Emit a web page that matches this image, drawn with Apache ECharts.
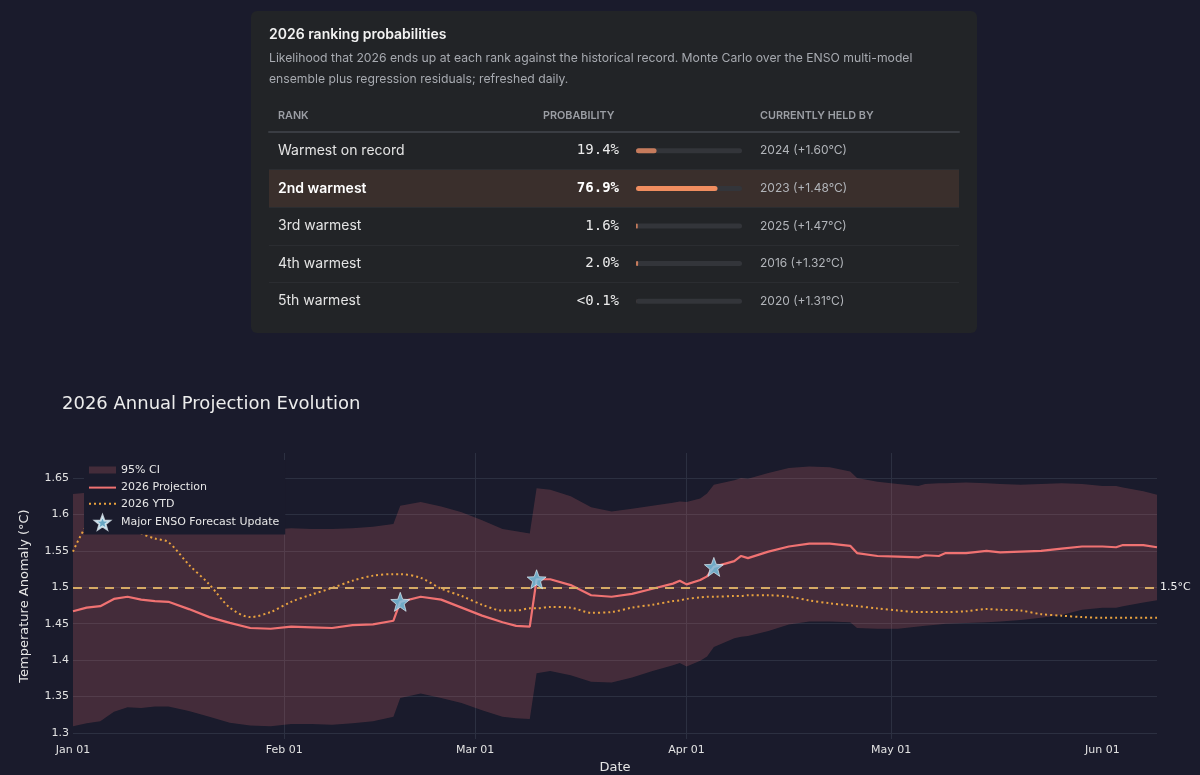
<!DOCTYPE html>
<html>
<head>
<meta charset="utf-8">
<title>2026 Annual Projection Evolution</title>
<script src="https://cdn.jsdelivr.net/npm/echarts@6.0.0/dist/echarts.min.js"></script>
<style>
  html, body { margin: 0; padding: 0; background: #1a1b2c; }
  #container { width: 1200px; height: 775px; }
</style>
</head>
<body>
<div id="container"></div>
<script>
// ranking table
var ranks = ["Warmest on record", "2nd warmest", "3rd warmest", "4th warmest", "5th warmest"];
var probValues = [19.4, 76.9, 1.6, 2.0, 0.05];
var probLabels = ["19.4%", "76.9%", "1.6%", "2.0%", "<0.1%"];
var heldBy = ["2024 (+1.60°C)", "2023 (+1.48°C)", "2025 (+1.47°C)", "2016 (+1.32°C)", "2020 (+1.31°C)"];
var highlightRow = 1;

// projection chart
var dates = [
  "2026-01-01", "2026-01-03", "2026-01-05", "2026-01-07", "2026-01-09", "2026-01-11", "2026-01-13", "2026-01-15",
  "2026-01-18", "2026-01-21", "2026-01-24", "2026-01-27", "2026-01-30", "2026-02-02", "2026-02-05", "2026-02-08",
  "2026-02-11", "2026-02-14", "2026-02-17", "2026-02-18", "2026-02-21", "2026-02-24", "2026-02-27", "2026-03-02",
  "2026-03-05", "2026-03-07", "2026-03-09", "2026-03-10", "2026-03-12", "2026-03-15", "2026-03-18", "2026-03-21",
  "2026-03-24", "2026-03-27", "2026-03-30", "2026-03-31", "2026-04-01", "2026-04-03", "2026-04-04", "2026-04-05",
  "2026-04-08", "2026-04-09", "2026-04-10", "2026-04-13", "2026-04-16", "2026-04-19", "2026-04-22", "2026-04-25",
  "2026-04-26", "2026-04-29", "2026-05-02", "2026-05-05", "2026-05-06", "2026-05-08", "2026-05-09", "2026-05-12",
  "2026-05-15", "2026-05-17", "2026-05-20", "2026-05-23", "2026-05-26", "2026-05-29", "2026-06-01", "2026-06-03",
  "2026-06-04", "2026-06-07", "2026-06-09"
];
var projection = [
  1.467, 1.472, 1.474, 1.484, 1.487, 1.483, 1.481, 1.480,
  1.470, 1.459, 1.451, 1.444, 1.443, 1.446, 1.445, 1.444,
  1.448, 1.449, 1.454, 1.480, 1.487, 1.483, 1.472, 1.461,
  1.452, 1.447, 1.446, 1.511, 1.511, 1.503, 1.489, 1.487,
  1.491, 1.498, 1.505, 1.509, 1.504, 1.510, 1.515, 1.528,
  1.536, 1.543, 1.540, 1.549, 1.556, 1.560, 1.560, 1.557,
  1.547, 1.543, 1.542, 1.541, 1.544, 1.543, 1.547, 1.547,
  1.550, 1.548, 1.549, 1.550, 1.553, 1.556, 1.556, 1.555,
  1.558, 1.558, 1.555
];
var ciUpper = [
  1.628, 1.630, 1.632, 1.638, 1.640, 1.632, 1.628, 1.624,
  1.612, 1.598, 1.588, 1.582, 1.579, 1.581, 1.580, 1.580,
  1.581, 1.583, 1.587, 1.612, 1.617, 1.611, 1.603, 1.592,
  1.580, 1.577, 1.574, 1.636, 1.634, 1.625, 1.610, 1.604,
  1.608, 1.612, 1.616, 1.618, 1.617, 1.622, 1.629, 1.641,
  1.647, 1.650, 1.649, 1.657, 1.664, 1.666, 1.665, 1.659,
  1.650, 1.645, 1.642, 1.639, 1.642, 1.643, 1.643, 1.644,
  1.643, 1.642, 1.641, 1.642, 1.643, 1.642, 1.639, 1.639,
  1.637, 1.632, 1.627
];
var ciLower = [
  1.309, 1.313, 1.316, 1.329, 1.335, 1.334, 1.336, 1.336,
  1.330, 1.322, 1.314, 1.310, 1.309, 1.312, 1.312, 1.311,
  1.313, 1.316, 1.322, 1.348, 1.354, 1.348, 1.341, 1.331,
  1.322, 1.320, 1.319, 1.382, 1.385, 1.379, 1.370, 1.369,
  1.376, 1.385, 1.393, 1.396, 1.391, 1.399, 1.405, 1.418,
  1.430, 1.432, 1.433, 1.440, 1.449, 1.453, 1.453, 1.452,
  1.444, 1.443, 1.443, 1.446, 1.447, 1.449, 1.450, 1.451,
  1.452, 1.453, 1.455, 1.458, 1.462, 1.469, 1.472, 1.472,
  1.474, 1.479, 1.482
];
var ytd = [
  1.549, 1.584, 1.594, 1.596, 1.588, 1.574, 1.567, 1.562,
  1.531, 1.504, 1.472, 1.459, 1.466, 1.480, 1.490, 1.499,
  1.509, 1.516, 1.518, 1.518, 1.513, 1.498, 1.488, 1.476,
  1.468, 1.468, 1.471, 1.471, 1.473, 1.472, 1.465, 1.466,
  1.472, 1.476, 1.481, 1.482, 1.484, 1.486, 1.487, 1.487,
  1.488, 1.488, 1.489, 1.489, 1.487, 1.482, 1.478, 1.475,
  1.474, 1.471, 1.468, 1.466, 1.466, 1.466, 1.466, 1.467,
  1.470, 1.469, 1.468, 1.463, 1.461, 1.459, 1.458, 1.458,
  1.458, 1.458, 1.458
];
var updateDates = ["2026-02-18", "2026-03-10", "2026-04-05"];
var updateValues = [1.480, 1.511, 1.528];
var threshold = 1.5;

var monthTicks = ["2026-01-01", "2026-02-01", "2026-03-01", "2026-04-01", "2026-05-01", "2026-06-01"];
var monthLabels = ["Jan 01", "Feb 01", "Mar 01", "Apr 01", "May 01", "Jun 01"];

function ts(s) {
  var p = s.split("-");
  return new Date(+p[0], +p[1] - 1, +p[2]).getTime();
}
var monthTickTs = monthTicks.map(ts);

var starPath = "path://M50 0 L62.34 33.01 L97.55 34.55 L69.97 56.49 L79.39 90.45 L50 71 L20.61 90.45 L30.03 56.49 L2.45 34.55 L37.66 33.01 Z";
// wide short swatch, padded to the legend item box
var ciIcon = "path://M0,0h0.05v0.05h-0.05zM0,3.5h27v7h-27zM26.95,13.95h0.05v0.05h-0.05z";
var bandColor = "rgba(239,115,115,0.2)";
var starColor = "#7ccbea";

var dom = document.getElementById("container");
var myChart = echarts.init(dom);
var option;

var plotFont = "DejaVu Sans";
var uiFont = "Inter";

option = {
  backgroundColor: "#1a1b2c",
  animation: false,
  textStyle: { fontFamily: plotFont },
  title: [
    {
      text: "2026 ranking probabilities",
      subtext: "Likelihood that 2026 ends up at each rank against the historical record. Monte Carlo over the ENSO multi-model\nensemble plus regression residuals; refreshed daily.",
      left: 269,
      top: 26,
      padding: 0,
      itemGap: 5,
      textStyle: { color: "#f2f2f2", fontSize: 14, fontWeight: 600, fontFamily: uiFont, lineHeight: 17 },
      subtextStyle: { color: "#a7aab0", fontSize: 12.2, fontFamily: uiFont, lineHeight: 21 }
    },
    {
      text: "2026 Annual Projection Evolution",
      left: 62,
      top: 394,
      padding: 0,
      textStyle: { color: "#ececec", fontSize: 18, fontWeight: "normal", fontFamily: plotFont, lineHeight: 21 }
    }
  ],
  graphic: [
    {
      type: "rect",
      z: -10,
      shape: { x: 251, y: 11, width: 726, height: 322, r: 6 },
      style: { fill: "#222427" }
    },
    {
      type: "text", x: 278, y: 116,
      style: { text: "RANK", fill: "#9b9ea4", font: "600 10.8px Inter", verticalAlign: "middle" }
    },
    {
      type: "text", x: 543, y: 116,
      style: { text: "PROBABILITY", fill: "#9b9ea4", font: "600 10.8px Inter", verticalAlign: "middle" }
    },
    {
      type: "text", x: 760, y: 116,
      style: { text: "CURRENTLY HELD BY", fill: "#9b9ea4", font: "600 10.8px Inter", verticalAlign: "middle" }
    }
  ],
  legend: {
    data: [
      { name: "95% CI", icon: ciIcon },
      { name: "2026 Projection", itemStyle: { opacity: 0 } },
      { name: "2026 YTD", itemStyle: { opacity: 0 } },
      { name: "Major ENSO Forecast Update", icon: starPath }
    ],
    orient: "vertical",
    left: 84,
    top: 460,
    padding: [3, 6, 4, 4],
    itemWidth: 27,
    itemHeight: 14,
    itemGap: 5,
    backgroundColor: "#1a1b2c",
    selectedMode: false,
    textStyle: { color: "#e6e6e6", fontSize: 11, fontFamily: plotFont }
  },
  grid: [
    { left: 269, top: 132, width: 690, height: 188 },
    { left: 636, top: 132, width: 106, height: 188 },
    { left: 73, right: 43, top: 453, bottom: 36 }
  ],
  xAxis: [
    {
      gridIndex: 0, type: "value", position: "top", min: 0, max: 1,
      axisLine: { show: true, lineStyle: { color: "#3a3d43", width: 2 } },
      axisTick: { show: false }, axisLabel: { show: false }, splitLine: { show: false }
    },
    {
      gridIndex: 1, type: "value", min: 0, max: 100, show: false
    },
    {
      gridIndex: 2, type: "value",
      min: ts(dates[0]), max: ts(dates[dates.length - 1]),
      axisLine: { show: false },
      axisTick: { show: false, customValues: monthTickTs },
      axisLabel: {
        customValues: monthTickTs,
        color: "#e2e2e2", fontSize: 11, margin: 6, fontFamily: plotFont,
        formatter: function (v) {
          var i = monthTickTs.indexOf(v);
          return i < 0 ? "" : monthLabels[i];
        }
      },
      splitLine: { show: true, showMinLine: false, showMaxLine: false, lineStyle: { color: "#2c3041", width: 1 } },
      name: "Date", nameLocation: "middle", nameGap: 22,
      nameTextStyle: { color: "#e6e6e6", fontSize: 13, fontFamily: plotFont }
    }
  ],
  yAxis: [
    {
      gridIndex: 0, type: "category", data: ranks, inverse: true,
      axisLine: { show: false }, axisTick: { show: false },
      axisLabel: {
        inside: true, margin: 9,
        formatter: function (v, i) { return i === highlightRow ? "{hl|" + v + "}" : "{n|" + v + "}"; },
        rich: {
          n: { color: "#e4e4e4", fontSize: 14, fontFamily: uiFont },
          hl: { color: "#ffffff", fontSize: 14, fontWeight: 600, fontFamily: uiFont }
        }
      },
      splitLine: { show: true, showMinLine: false, showMaxLine: false, lineStyle: { color: "#2b2d31", width: 1 } },
      splitArea: {
        show: true,
        areaStyle: { color: ["rgba(0,0,0,0)", "#3a2f2c", "rgba(0,0,0,0)", "rgba(0,0,0,0)", "rgba(0,0,0,0)"] }
      }
    },
    {
      gridIndex: 1, type: "category", data: probLabels, inverse: true, position: "left",
      axisLine: { show: false }, axisTick: { show: false },
      axisLabel: {
        margin: 17,
        formatter: function (v, i) { return i === highlightRow ? "{hl|" + v + "}" : "{n|" + v + "}"; },
        rich: {
          n: { color: "#ececec", fontSize: 14, fontFamily: "DejaVu Sans Mono" },
          hl: { color: "#ffffff", fontSize: 14, fontWeight: "bold", fontFamily: "DejaVu Sans Mono" }
        }
      }
    },
    {
      gridIndex: 1, type: "category", data: heldBy, inverse: true, position: "right",
      axisLine: { show: false }, axisTick: { show: false },
      axisLabel: { margin: 18, color: "#b1b4b9", fontSize: 12, fontFamily: uiFont, align: "left" }
    },
    {
      gridIndex: 2, type: "value", min: 1.2915, max: 1.6845, splitNumber: 7,
      axisLine: { show: false }, axisTick: { show: false },
      axisLabel: { showMinLabel: false, showMaxLabel: false, color: "#e2e2e2", fontSize: 11, margin: 4, fontFamily: plotFont },
      splitLine: { show: true, showMinLine: false, showMaxLine: false, lineStyle: { color: "#2c3041", width: 1 } },
      name: "Temperature Anomaly (°C)", nameLocation: "middle", nameGap: 42,
      nameTextStyle: { color: "#e6e6e6", fontSize: 13, fontFamily: plotFont }
    }
  ],
  series: [
    {
      // band drawn as one polygon: upper edge forward, lower edge back
      name: "95% CI", type: "custom", xAxisIndex: 2, yAxisIndex: 3, silent: true,
      data: dates.map(function (d, i) { return [ts(d), ciLower[i], ciUpper[i]]; }),
      encode: { x: 0, y: [1, 2] },
      itemStyle: { color: bandColor },
      renderItem: function (params, api) {
        if (params.dataIndexInside !== 0) return null;
        var n = params.dataInsideLength;
        var top = [], bottom = [];
        for (var i = 0; i < n; i++) {
          top.push(api.coord([api.value(0, i), api.value(2, i)]));
          bottom.push(api.coord([api.value(0, i), api.value(1, i)]));
        }
        return {
          type: "polygon",
          shape: { points: top.concat(bottom.reverse()) },
          style: { fill: bandColor }
        };
      }
    },
    {
      name: "2026 Projection", type: "line", xAxisIndex: 2, yAxisIndex: 3,
      data: dates.map(function (d, i) { return [ts(d), projection[i]]; }),
      symbol: "none",
      lineStyle: { color: "#f07272", width: 2.2 },
      itemStyle: { color: "#f07272" },
      markLine: {
        silent: true, symbol: "none",
        data: [{ yAxis: threshold }],
        lineStyle: { color: "#d6aa64", type: [9, 7], width: 2 },
        label: { position: "end", formatter: "1.5°C", color: "#f0f0f0", fontSize: 11, fontFamily: plotFont, distance: 3 }
      }
    },
    {
      name: "2026 YTD", type: "line", xAxisIndex: 2, yAxisIndex: 3, smooth: 0.3,
      data: dates.map(function (d, i) { return [ts(d), ytd[i]]; }),
      symbol: "none",
      lineStyle: { color: "#e9a23f", width: 2, type: [2, 3] },
      itemStyle: { color: "#e9a23f" }
    },
    {
      name: "Major ENSO Forecast Update", type: "scatter", xAxisIndex: 2, yAxisIndex: 3,
      data: updateDates.map(function (d, i) { return [ts(d), updateValues[i]]; }),
      symbol: starPath, symbolSize: 19, z: 5,
      itemStyle: { color: starColor, borderColor: "#e8f6fc", borderWidth: 0.8 }
    },
    {
      type: "bar", xAxisIndex: 1, yAxisIndex: 1, barWidth: 5,
      data: probValues.map(function (v, i) {
        return { value: v, itemStyle: { color: i === highlightRow ? "#f08d5f" : "#c67b5c" } };
      }),
      itemStyle: { borderRadius: 3 },
      showBackground: true,
      backgroundStyle: { color: "#33353a", borderRadius: 3 },
      silent: true
    }
  ]
};

if (option && typeof option === "object") {
  myChart.setOption(option);
}
</script>
</body>
</html>
